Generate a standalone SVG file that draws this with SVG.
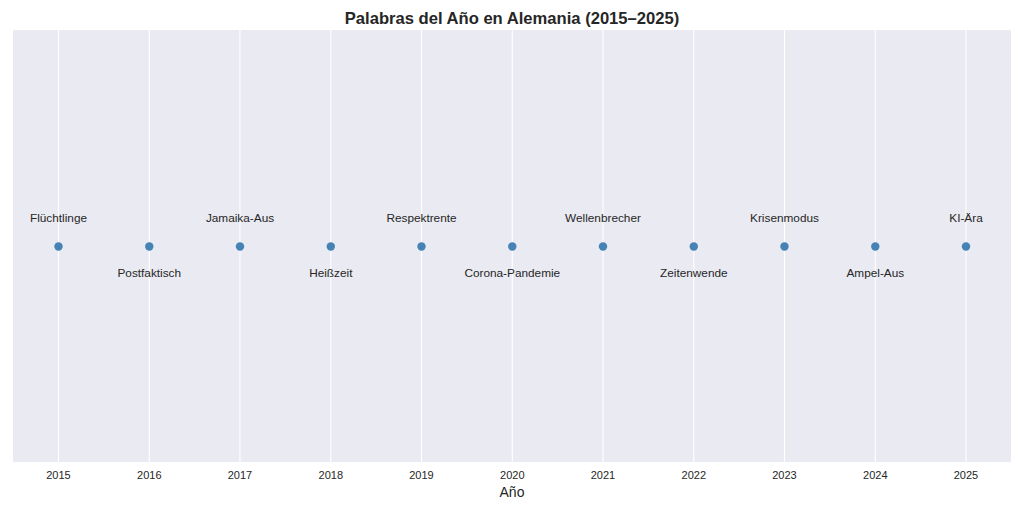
<svg xmlns="http://www.w3.org/2000/svg" width="1024" height="512" viewBox="0 0 1024 512">
<style>
.grid{stroke:#ffffff;stroke-width:1.1}
.dot{fill:#4682b4}
.lbl{font-family:"Liberation Sans",Arial,sans-serif;font-size:11.8px;fill:#262626;text-anchor:middle}
.tick{font-family:"Liberation Sans",Arial,sans-serif;font-size:11px;fill:#262626;text-anchor:middle}
.ax{font-family:"Liberation Sans",Arial,sans-serif;font-size:14px;fill:#262626;text-anchor:middle}
.title{font-family:"Liberation Sans",Arial,sans-serif;font-size:16.6px;font-weight:bold;fill:#262626;text-anchor:middle}
</style>
<rect width="1024" height="512" fill="#ffffff"/>
<rect x="13" y="30" width="998" height="432" fill="#eaeaf2"/>
<g id="grid">
<line class="grid" x1="58.5" y1="30" x2="58.5" y2="462"/>
<line class="grid" x1="149.3" y1="30" x2="149.3" y2="462"/>
<line class="grid" x1="240" y1="30" x2="240" y2="462"/>
<line class="grid" x1="330.8" y1="30" x2="330.8" y2="462"/>
<line class="grid" x1="421.5" y1="30" x2="421.5" y2="462"/>
<line class="grid" x1="512.3" y1="30" x2="512.3" y2="462"/>
<line class="grid" x1="603" y1="30" x2="603" y2="462"/>
<line class="grid" x1="693.8" y1="30" x2="693.8" y2="462"/>
<line class="grid" x1="784.5" y1="30" x2="784.5" y2="462"/>
<line class="grid" x1="875.3" y1="30" x2="875.3" y2="462"/>
<line class="grid" x1="966" y1="30" x2="966" y2="462"/>
</g>
<g id="connectors"></g>
<g id="n2015"><circle class="dot" cx="58.5" cy="246.5" r="4.2"/><text class="lbl" x="58.5" y="222">Flüchtlinge</text></g>
<g id="n2016"><circle class="dot" cx="149.3" cy="246.5" r="4.2"/><text class="lbl" x="149.3" y="277">Postfaktisch</text></g>
<g id="n2017"><circle class="dot" cx="240" cy="246.5" r="4.2"/><text class="lbl" x="240" y="222">Jamaika-Aus</text></g>
<g id="n2018"><circle class="dot" cx="330.8" cy="246.5" r="4.2"/><text class="lbl" x="330.8" y="277">Heißzeit</text></g>
<g id="n2019"><circle class="dot" cx="421.5" cy="246.5" r="4.2"/><text class="lbl" x="421.5" y="222">Respektrente</text></g>
<g id="n2020"><circle class="dot" cx="512.3" cy="246.5" r="4.2"/><text class="lbl" x="512.3" y="277">Corona-Pandemie</text></g>
<g id="n2021"><circle class="dot" cx="603" cy="246.5" r="4.2"/><text class="lbl" x="603" y="222">Wellenbrecher</text></g>
<g id="n2022"><circle class="dot" cx="693.8" cy="246.5" r="4.2"/><text class="lbl" x="693.8" y="277">Zeitenwende</text></g>
<g id="n2023"><circle class="dot" cx="784.5" cy="246.5" r="4.2"/><text class="lbl" x="784.5" y="222">Krisenmodus</text></g>
<g id="n2024"><circle class="dot" cx="875.3" cy="246.5" r="4.2"/><text class="lbl" x="875.3" y="277">Ampel-Aus</text></g>
<g id="n2025"><circle class="dot" cx="966" cy="246.5" r="4.2"/><text class="lbl" x="966" y="222">KI-Ära</text></g>
<g id="ticks">
<text class="tick" x="58.5" y="479">2015</text>
<text class="tick" x="149.3" y="479">2016</text>
<text class="tick" x="240" y="479">2017</text>
<text class="tick" x="330.8" y="479">2018</text>
<text class="tick" x="421.5" y="479">2019</text>
<text class="tick" x="512.3" y="479">2020</text>
<text class="tick" x="603" y="479">2021</text>
<text class="tick" x="693.8" y="479">2022</text>
<text class="tick" x="784.5" y="479">2023</text>
<text class="tick" x="875.3" y="479">2024</text>
<text class="tick" x="966" y="479">2025</text>
</g>
<text class="ax" x="512" y="497">Año</text>
<text class="title" x="512" y="24">Palabras del Año en Alemania (2015–2025)</text>
</svg>
